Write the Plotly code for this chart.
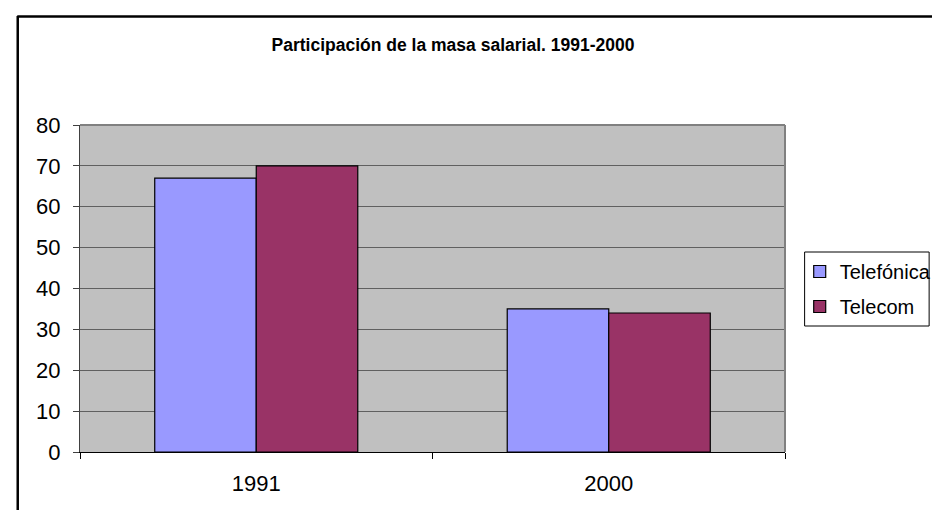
import plotly.graph_objects as go

categories = ["1991", "2000"]
telefonica = [67, 35]
telecom = [70, 34]
series_names = ["Telefónica", "Telecom"]
y_ticks = [0, 10, 20, 30, 40, 50, 60, 70, 80]
title_text = "Participación de la masa salarial. 1991-2000"

W, H = 940, 510
L, R, T, B = 72, 149, 117, 66
pw, ph = W - L - R, H - T - B

def px_x(x):
    return (x - L) / pw

def px_y(y):
    return (H - B - y) / ph

fig = go.Figure()
fig.add_trace(go.Bar(x=categories, y=telefonica, name=series_names[0],
                     marker=dict(color="#9999FF", line=dict(color="#000000", width=1.2)),
                     legendgroup="a"))
fig.add_trace(go.Bar(x=categories, y=telecom, name=series_names[1],
                     marker=dict(color="#993366", line=dict(color="#000000", width=1.2)),
                     legendgroup="b"))

font = "Liberation Sans, Arial, sans-serif"

fig.update_layout(
    width=W, height=H,
    margin=dict(l=L, r=R, t=T, b=B, pad=0),
    paper_bgcolor="white", plot_bgcolor="#C0C0C0",
    barmode="group", bargap=0.424, bargroupgap=0,
    font=dict(family=font, color="#000000"),
    title=dict(text=title_text, x=445 / W, xanchor="center", xref="container",
               y=1 - 37 / H, yanchor="middle", yref="container",
               font=dict(family="Liberation Sans Narrow, Arial Narrow, Liberation Sans, sans-serif",
                         size=17.5, weight="bold", color="#000000")),
    showlegend=True,
    legend=dict(x=px_x(806), xanchor="left", y=px_y(281), yanchor="middle",
                font=dict(size=20, family=font), bgcolor="rgba(0,0,0,0)",
                borderwidth=0, tracegroupgap=6, itemwidth=30),
    xaxis=dict(showline=True, linecolor="#000000", linewidth=1,
               ticks="outside", ticklen=6, tickcolor="#000000", tickson="boundaries",
               tickfont=dict(size=22), ticklabelstandoff=12, showgrid=False),
    yaxis=dict(range=[0, 80], tickvals=y_ticks, showline=True, linecolor="#404040", linewidth=1,
               ticks="outside", ticklen=6, tickcolor="#404040",
               showgrid=True, gridcolor="#606060", gridwidth=1.3,
               tickfont=dict(size=22), ticklabelstandoff=8, zeroline=False),
    shapes=[
        # plot area border (top & right)
        dict(type="line", xref="paper", yref="paper", x0=0, x1=1, y0=1, y1=1,
             line=dict(color="#808080", width=2)),
        dict(type="line", xref="paper", yref="paper", x0=1, x1=1, y0=0, y1=1,
             line=dict(color="#808080", width=2)),
        # legend box
        dict(type="rect", xref="paper", yref="paper",
             x0=px_x(811), x1=px_x(938), y0=px_y(318), y1=px_y(244),
             line=dict(color="#000000", width=1)),
        # outer chart frame (left and top visible)
        dict(type="line", xref="paper", yref="paper", x0=px_x(8.5), x1=px_x(8.5),
             y0=px_y(8), y1=px_y(512), line=dict(color="#000000", width=2.5)),
        dict(type="line", xref="paper", yref="paper", x0=px_x(8), x1=px_x(942),
             y0=px_y(8.5), y1=px_y(8.5), line=dict(color="#000000", width=2.5)),
    ],
)

fig.write_html("out.html")
